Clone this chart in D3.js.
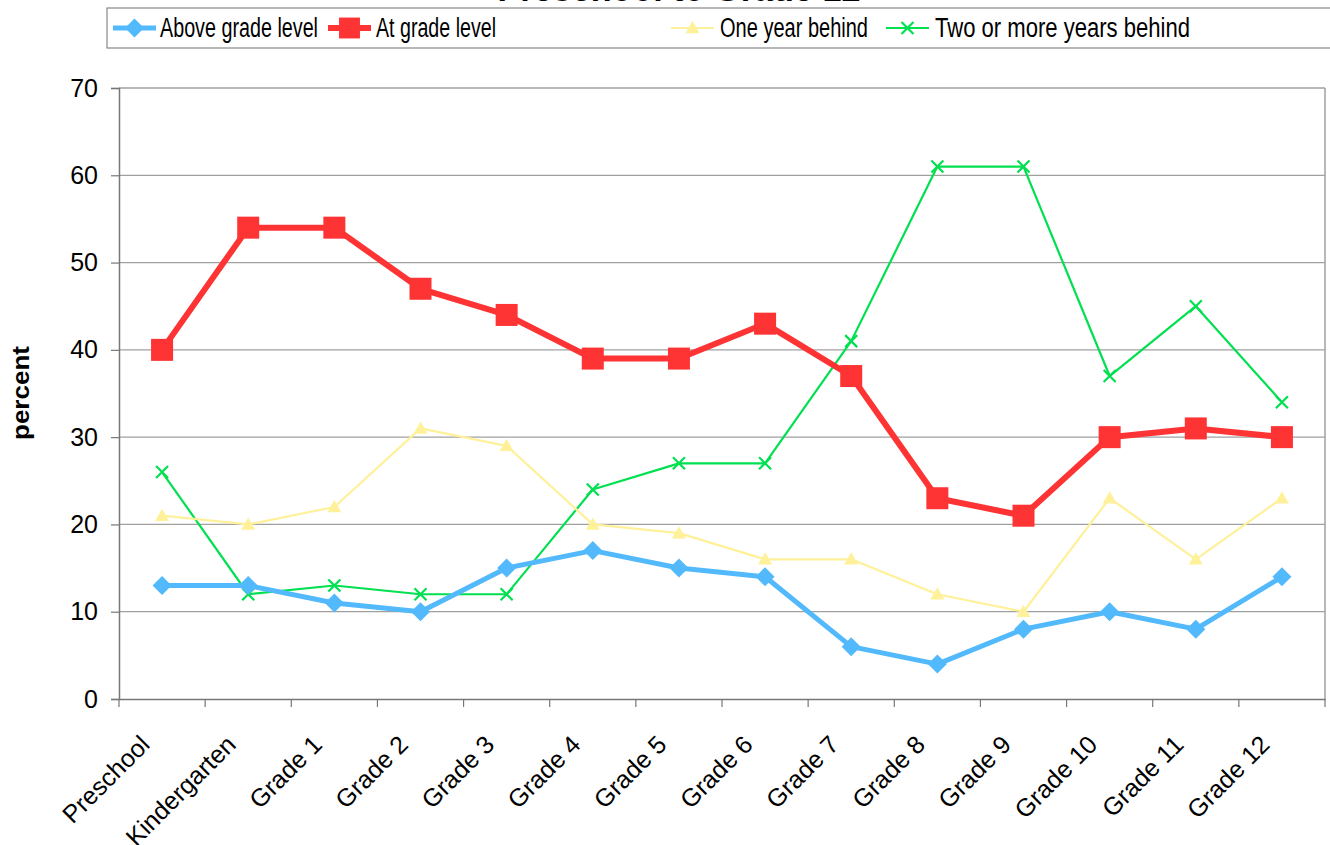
<!DOCTYPE html>
<html>
<head>
<meta charset="utf-8">
<script src="https://cdn.jsdelivr.net/npm/d3@7"></script>
<style>
  body { margin: 0; background: #fff; }
  svg { font-family: "Liberation Sans", Arial, sans-serif; }
</style>
</head>
<body>
<div id="chart"></div>
<script>
var grades = ["Preschool", "Kindergarten", "Grade 1", "Grade 2", "Grade 3", "Grade 4", "Grade 5",
  "Grade 6", "Grade 7", "Grade 8", "Grade 9", "Grade 10", "Grade 11", "Grade 12"];
var aboveGrade = [13, 13, 11, 10, 15, 17, 15, 14, 6, 4, 8, 10, 8, 14];
var atGrade = [40, 54, 54, 47, 44, 39, 39, 43, 37, 23, 21, 30, 31, 30];
var oneYear = [21, 20, 22, 31, 29, 20, 19, 16, 16, 12, 10, 23, 16, 23];
var twoPlus = [26, 12, 13, 12, 12, 24, 27, 27, 41, 61, 61, 37, 45, 34];
var yTicks = [0, 10, 20, 30, 40, 50, 60, 70];

var series = [
  {name: "Above grade level", values: aboveGrade, color: "#52b9fc", width: 5, marker: "diamond", size: 19},
  {name: "At grade level", values: atGrade, color: "#fe3334", width: 6, marker: "square", size: 22},
  {name: "One year behind", values: oneYear, color: "#fff09a", width: 2.2, marker: "triangle", size: 14},
  {name: "Two or more years behind", values: twoPlus, color: "#00e050", width: 2.2, marker: "cross", size: 12}
];

var W = 1330, H = 845;
var plotLeft = 119, plotRight = 1325, plotTop = 88, plotBottom = 699;

var svg = d3.select("#chart").append("svg")
  .attr("width", W).attr("height", H);

var x = d3.scaleBand().domain(grades).range([plotLeft, plotRight]);
var y = d3.scaleLinear().domain([0, 70]).range([plotBottom, plotTop]);

// gridlines
svg.append("g").selectAll("line")
  .data(yTicks.filter(d => d > 0))
  .enter().append("line")
    .attr("x1", plotLeft).attr("x2", plotRight)
    .attr("y1", d => y(d)).attr("y2", d => y(d))
    .style("stroke", "#a0a0a0").style("stroke-width", 1.3);

// right border
svg.append("line")
  .attr("x1", plotRight).attr("x2", plotRight).attr("y1", plotTop).attr("y2", plotBottom)
  .style("stroke", "#a0a0a0").style("stroke-width", 1.5);

// y axis
var yAxis = svg.append("g")
  .attr("transform", "translate(" + plotLeft + ",0)")
  .call(d3.axisLeft(y).tickValues(yTicks).tickSize(8).tickPadding(13));
yAxis.select(".domain").style("stroke", "#777").style("stroke-width", 1.5);
yAxis.selectAll(".tick line").style("stroke", "#777").style("stroke-width", 1.2);
yAxis.selectAll("text").style("font-size", "25px").style("font-family", "Liberation Sans, Arial").attr("fill", "#000");

// x axis
var xAxis = svg.append("g")
  .attr("transform", "translate(0," + plotBottom + ")")
  .call(d3.axisBottom(x).tickSize(0).tickFormat(""));
xAxis.select(".domain").style("stroke", "#777").style("stroke-width", 1.5);
var xTickPos = grades.map((g, i) => plotLeft + i * x.bandwidth()).concat([plotRight]);
xAxis.selectAll(".xtick").data(xTickPos).enter().append("line")
  .attr("x1", d => d).attr("x2", d => d).attr("y1", 0).attr("y2", 8)
  .style("stroke", "#777").style("stroke-width", 1.2);

svg.append("g").selectAll("text")
  .data(grades)
  .enter().append("text")
    .attr("transform", d => "translate(" + (x(d) + x.bandwidth() / 2 - 17) + "," + (plotBottom + 41) + ") rotate(-45)")
    .attr("text-anchor", "end")
    .attr("dy", "0.35em")
    .style("font-size", "25px")
    .text(d => d);

// y label
svg.append("text")
  .attr("transform", "translate(29,393) rotate(-90)")
  .attr("text-anchor", "middle")
  .attr("textLength", 94)
  .attr("lengthAdjust", "spacingAndGlyphs")
  .style("font-size", "23px")
  .style("font-weight", "bold")
  .text("percent");

// marker drawing
function drawMarker(g, s, cx, cy, k) {
  var r = s.size / 2 * (k || 1);
  if (s.marker === "square") {
    g.append("rect").attr("x", cx - r).attr("y", cy - r).attr("width", 2 * r).attr("height", 2 * r)
      .style("fill", s.color);
  } else if (s.marker === "diamond") {
    g.append("path").attr("d", "M" + cx + "," + (cy - r) + "L" + (cx + r) + "," + cy + "L" + cx + "," + (cy + r) + "L" + (cx - r) + "," + cy + "Z")
      .style("fill", s.color);
  } else if (s.marker === "triangle") {
    g.append("path").attr("d", "M" + cx + "," + (cy - r) + "L" + (cx + r) + "," + (cy + r * 0.75) + "L" + (cx - r) + "," + (cy + r * 0.75) + "Z")
      .style("fill", s.color);
  } else {
    g.append("path").attr("d", "M" + (cx - r) + "," + (cy - r) + "L" + (cx + r) + "," + (cy + r) + "M" + (cx + r) + "," + (cy - r) + "L" + (cx - r) + "," + (cy + r))
      .style("stroke", s.color).style("stroke-width", 2.2).style("fill", "none");
  }
}

var line = d3.line()
  .x((d, i) => x(grades[i]) + x.bandwidth() / 2)
  .y(d => y(d));

// draw order so the red line ends on top
var order = [3, 2, 0, 1];
order.forEach(function(si) {
  var s = series[si];
  var g = svg.append("g");
  g.append("path").datum(s.values)
    .attr("d", line)
    .style("fill", "none")
    .style("stroke", s.color)
    .style("stroke-width", s.width)
    .style("stroke-linejoin", "round");
  s.values.forEach(function(v, i) {
    drawMarker(g, s, x(grades[i]) + x.bandwidth() / 2, y(v));
  });
});

// title (mostly hidden behind legend)
svg.append("text")
  .attr("x", 679).attr("y", 1)
  .attr("text-anchor", "middle")
  .attr("textLength", 363)
  .attr("lengthAdjust", "spacingAndGlyphs")
  .style("font-size", "34px")
  .style("font-weight", "bold")
  .text("Preschool to Grade 12");

// legend
var lg = svg.append("g");
lg.append("rect")
  .attr("x", 107).attr("y", 8).attr("width", 1240).attr("height", 40)
  .style("fill", "#fff").style("stroke", "#888").style("stroke-width", 1.2);
var legendX = [{l: 113, t: 160, w: 158}, {l: 328, t: 376, w: 120}, {l: 671, t: 720, w: 148}, {l: 886, t: 935, w: 255}];
series.forEach(function(s, i) {
  var p = legendX[i];
  lg.append("line")
    .attr("x1", p.l).attr("x2", p.l + 43).attr("y1", 28).attr("y2", 28)
    .style("stroke", s.color).style("stroke-width", s.width);
  drawMarker(lg, s, p.l + 21.5, 28, s.marker === "square" ? 0.95 : 1);
  lg.append("text")
    .attr("x", p.t).attr("y", 28).attr("dy", "0.35em")
    .attr("textLength", p.w)
    .attr("lengthAdjust", "spacingAndGlyphs")
    .style("font-size", "27px")
    .text(s.name);
});
</script>
</body>
</html>
